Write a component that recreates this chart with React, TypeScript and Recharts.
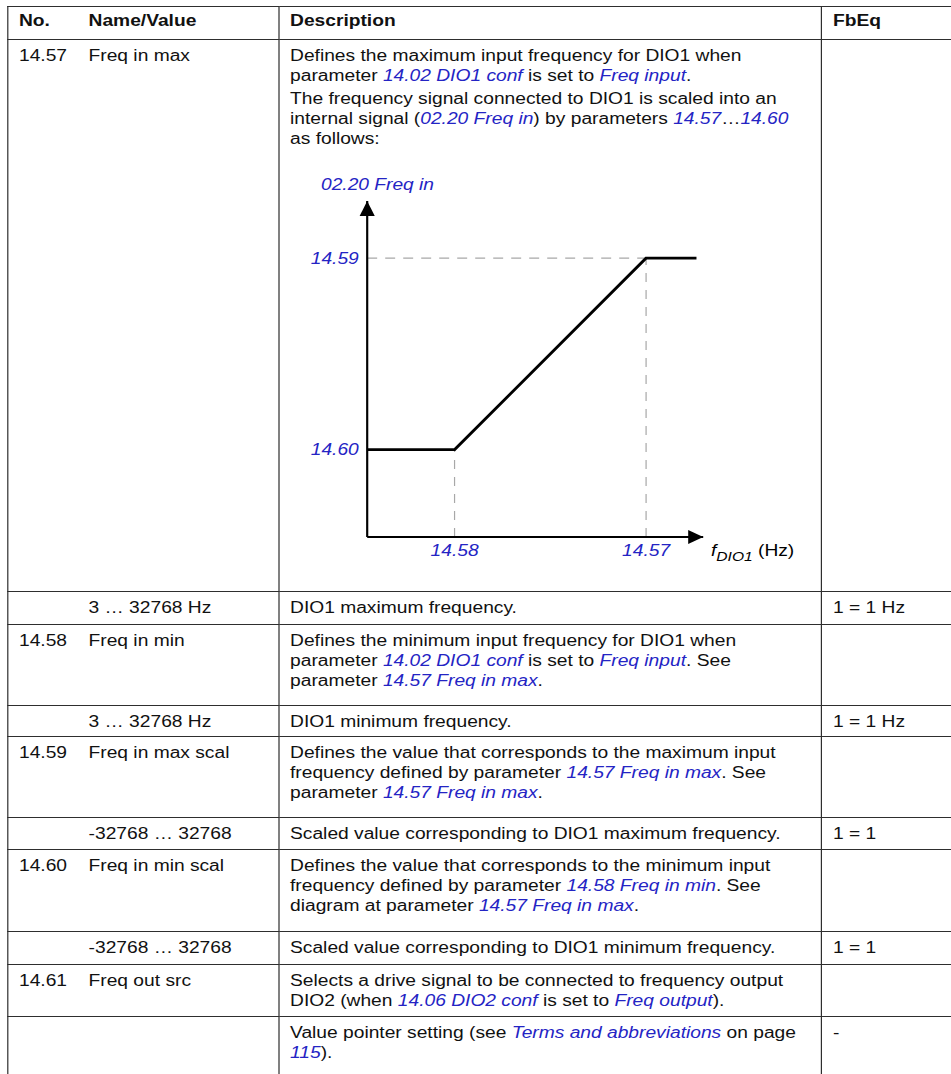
import React from 'react'
import { LineChart, Line, XAxis, YAxis, ReferenceLine, ReferenceDot, Label } from 'recharts'

/* ── schematic diagram values (axis length = 100) ── */
const fDio1 = [0, 26, 83, 98]
const freqIn = [26, 26, 83, 83]
const xTicks = [26, 83]
const xTickLabels = ['14.58', '14.57']
const yTicks = [26, 83]
const yTickLabels = ['14.60', '14.59']
const AXIS_MAX = 100

const chartData = fDio1.map((f, i) => ({ f, v: freqIn[i] }))

const BLUE = '#2424c4'
const DASH = '#a8a8a8'
const FONT = '"Liberation Sans", Arial, Helvetica, sans-serif'
const TICK_STYLE = { fill: BLUE, fontStyle: 'italic', fontSize: 16, fontFamily: FONT }

const ArrowRight = (p: any) => (
  <polygon points={`${p.cx},${p.cy} ${p.cx - 12.5},${p.cy - 7} ${p.cx - 12.5},${p.cy + 7}`} fill="#000" />
)
const ArrowUp = (p: any) => (
  <polygon points={`${p.cx},${p.cy} ${p.cx - 6.3},${p.cy + 15} ${p.cx + 6.3},${p.cy + 15}`} fill="#000" />
)

const XTitle = (props: any) => {
  const vb = props.viewBox
  return (
    <text x={vb.x + vb.width + 6.5} y={vb.y + 19} fill="#000" fontSize={16} fontFamily={FONT}>
      <tspan fontStyle="italic">f</tspan>
      <tspan fontStyle="italic" fontSize={13} dy={5}>DIO1</tspan>
      <tspan dy={-5}> (Hz)</tspan>
    </text>
  )
}

const YTitle = (props: any) => {
  const vb = props.viewBox
  return (
    <text x={vb.x + vb.width - 38.5} y={vb.y - 11} fill={BLUE} fontSize={16} fontStyle="italic" fontFamily={FONT}>
      02.20 Freq in
    </text>
  )
}

function FreqInChart() {
  return (
    <LineChart width={430} height={430} data={chartData} margin={{ top: 52, right: 86, left: 14, bottom: 12 }}>
      <XAxis
        type="number" dataKey="f" domain={[0, AXIS_MAX]} ticks={xTicks} interval={0}
        tickFormatter={(v) => xTickLabels[xTicks.indexOf(v)]}
        tickLine={false} tickSize={6} tickMargin={2} height={30}
        axisLine={{ stroke: '#000', strokeWidth: 2 }} tick={TICK_STYLE}
      >
        <Label content={XTitle} />
      </XAxis>
      <YAxis
        type="number" dataKey="v" domain={[0, AXIS_MAX]} ticks={yTicks} interval={0}
        tickFormatter={(v) => yTickLabels[yTicks.indexOf(v)]}
        tickLine={false} tickSize={5} tickMargin={2} width={50}
        axisLine={{ stroke: '#000', strokeWidth: 1.8 }} tick={TICK_STYLE}
      >
        <Label content={YTitle} />
      </YAxis>
      <ReferenceLine segment={[{ x: 0, y: freqIn[2] }, { x: fDio1[2], y: freqIn[2] }]} stroke={DASH} strokeWidth={1.2} strokeDasharray="8.3 6.7" />
      <ReferenceLine segment={[{ x: fDio1[1], y: 0 }, { x: fDio1[1], y: freqIn[1] }]} stroke={DASH} strokeWidth={1} strokeDasharray="9 8" />
      <ReferenceLine segment={[{ x: fDio1[2], y: 0 }, { x: fDio1[2], y: freqIn[2] }]} stroke={DASH} strokeWidth={1} strokeDasharray="9 8" />
      <Line type="linear" dataKey="v" stroke="#000" strokeWidth={2.6} dot={false} isAnimationActive={false} />
      <ReferenceDot x={AXIS_MAX} y={0} shape={ArrowRight} />
      <ReferenceDot x={0} y={AXIS_MAX} shape={ArrowUp} />
    </LineChart>
  )
}

/* ── table ── */
const BORDER = '1.5px solid #2e2e2e'
const td = (extra: any = {}) => ({
  border: BORDER, verticalAlign: 'top' as const, padding: '6px 8px 0 9px', lineHeight: '20px', ...extra,
})
const L = ({ children }: any) => <i style={{ color: BLUE }}>{children}</i>

function Row({ h, no, name, desc, fb, head }: any) {
  const s = head ? { fontWeight: 700, paddingTop: 4 } : {}
  return (
    <tr style={{ height: h }}>
      <td style={td({ borderRight: 'none', ...s })}>{no}</td>
      <td style={td({ borderLeft: 'none', ...s })}>{name}</td>
      <td style={td({ whiteSpace: 'nowrap', ...s })}>{desc}</td>
      <td style={td(s)}>{fb}</td>
    </tr>
  )
}

export default function App() {
  return (
    <div style={{ position: 'absolute', left: 0, top: 0, width: 951, height: 1074, overflow: 'hidden', background: '#fff' }}>
      <div style={{ width: 792.5, transform: 'scaleX(1.2)', transformOrigin: '0 0', fontFamily: FONT, fontSize: 16, color: '#111' }}>
        <table style={{ borderCollapse: 'collapse', tableLayout: 'fixed', width: 808, marginLeft: 5.8, marginTop: 6 }}>
          <colgroup>
            <col style={{ width: 58.5 }} />
            <col style={{ width: 167.4 }} />
            <col style={{ width: 452.5 }} />
            <col style={{ width: 129.6 }} />
          </colgroup>
          <tbody>
            <Row head h={33} no="No." name="Name/Value" desc="Description" fb="FbEq" />
            <Row h={552} no="14.57" name="Freq in max" fb="" desc={
              <div>
                <div>Defines the maximum input frequency for DIO1 when<br />parameter <L>14.02 DIO1 conf</L> is set to <L>Freq input</L>.</div>
                <div style={{ marginTop: 3 }}>The frequency signal connected to DIO1 is scaled into an<br />internal signal (<L>02.20 Freq in</L>) by parameters <L>14.57</L>…<L>14.60</L><br />as follows:</div>
                <FreqInChart />
              </div>
            } />
            <Row h={33} no="" name="3 … 32768 Hz" desc="DIO1 maximum frequency." fb="1 = 1 Hz" />
            <Row h={81} no="14.58" name="Freq in min" fb="" desc={
              <div>Defines the minimum input frequency for DIO1 when<br />parameter <L>14.02 DIO1 conf</L> is set to <L>Freq input</L>. See<br />parameter <L>14.57 Freq in max</L>.</div>
            } />
            <Row h={31} no="" name="3 … 32768 Hz" desc="DIO1 minimum frequency." fb="1 = 1 Hz" />
            <Row h={81} no="14.59" name="Freq in max scal" fb="" desc={
              <div>Defines the value that corresponds to the maximum input<br />frequency defined by parameter <L>14.57 Freq in max</L>. See<br />parameter <L>14.57 Freq in max</L>.</div>
            } />
            <Row h={32} no="" name="-32768 … 32768" desc="Scaled value corresponding to DIO1 maximum frequency." fb="1 = 1" />
            <Row h={82} no="14.60" name="Freq in min scal" fb="" desc={
              <div>Defines the value that corresponds to the minimum input<br />frequency defined by parameter <L>14.58 Freq in min</L>. See<br />diagram at parameter <L>14.57 Freq in max</L>.</div>
            } />
            <Row h={33} no="" name="-32768 … 32768" desc="Scaled value corresponding to DIO1 minimum frequency." fb="1 = 1" />
            <Row h={52} no="14.61" name="Freq out src" fb="" desc={
              <div>Selects a drive signal to be connected to frequency output<br />DIO2 (when <L>14.06 DIO2 conf</L> is set to <L>Freq output</L>).</div>
            } />
            <Row h={80} no="" name="" fb="-" desc={
              <div>Value pointer setting (see <L>Terms and abbreviations</L> on page<br /><L>115</L>).</div>
            } />
          </tbody>
        </table>
      </div>
    </div>
  )
}
